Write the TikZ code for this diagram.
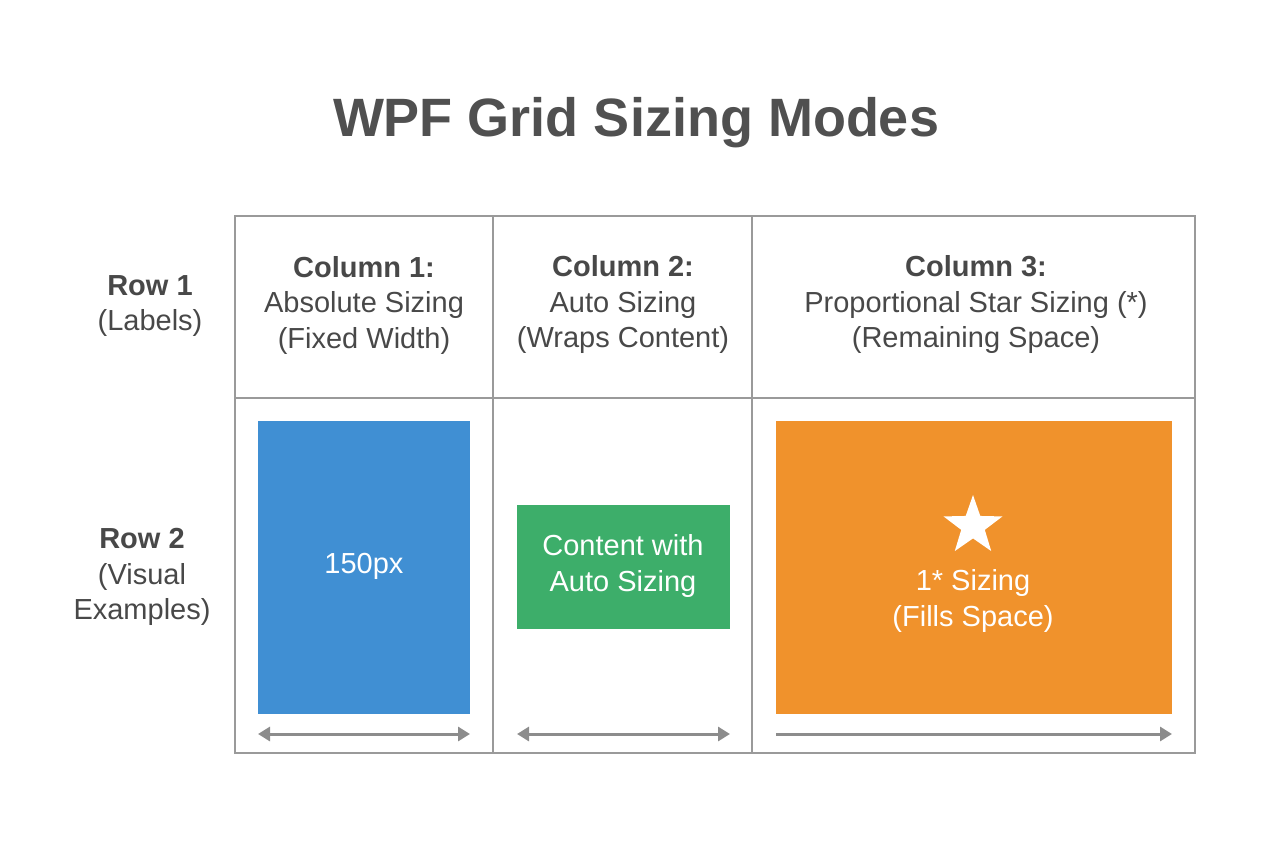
\documentclass[tikz,border=0pt]{standalone}
\usepackage{fontspec}
\setmainfont{Liberation Sans}
\usetikzlibrary{shapes.geometric,arrows.meta}
\definecolor{gridc}{HTML}{9A9A9A}
\definecolor{txt}{HTML}{484848}
\definecolor{titc}{HTML}{505050}
\definecolor{blueb}{HTML}{408FD3}
\definecolor{greenb}{HTML}{3DAE6A}
\definecolor{orangeb}{HTML}{F0922C}
\definecolor{arr}{HTML}{8C8C8C}
\tikzset{
  gridline/.style={draw=gridc,line width=2.5pt},
  hdr/.style={text=txt,font=\fontsize{29}{35.5}\selectfont,align=center},
  rowlab/.style={text=txt,font=\fontsize{29}{35.5}\selectfont,align=center},
  boxtxt/.style={text=white,font=\fontsize{29}{35.5}\selectfont,align=center},
  sizearrow/.style={draw=arr,line width=3pt},
}
\begin{document}
\begin{tikzpicture}[x=1pt,y=-1pt]
\useasboundingbox (0,0) rectangle (1264,848);
\node[text=titc,font=\fontsize{54}{64}\selectfont\bfseries] (title) at (636,123) {WPF Grid Sizing Modes};
\draw[gridline] (235,216) rectangle (1195,753);
\draw[gridline] (493,216) -- (493,753);
\draw[gridline] (752,216) -- (752,753);
\draw[gridline] (235,398) -- (1195,398);
\node[hdr] (h1) at (364,305) {\textbf{Column 1:}\\Absolute Sizing\\(Fixed Width)};
\node[hdr] (h2) at (623,305) {\textbf{Column 2:}\\Auto Sizing\\(Wraps Content)};
\node[hdr] (h3) at (976,305) {\textbf{Column 3:}\\Proportional Star Sizing (*)\\(Remaining Space)};
\node[rowlab] (r1) at (150,306) {\textbf{Row 1}\\(Labels)};
\node[rowlab] (r2) at (142,577) {\textbf{Row 2}\\(Visual\\Examples)};
\fill[blueb] (258,421) rectangle (470,714);
\node[boxtxt] (b1) at (364,566) {150px};
\fill[greenb] (517,505) rectangle (730,629);
\node[boxtxt] (b2) at (623,566) {Content with\\Auto Sizing};
\fill[orangeb] (776,421) rectangle (1172,714);
\node[star,star points=5,star point ratio=2.5,fill=white,minimum size=62pt,inner sep=0pt] (st) at (973,526) {};
\node[boxtxt] (b3) at (973,601) {1* Sizing\\(Fills Space)};
\coordinate (a1l) at (258,734); \coordinate (a1r) at (470,734);
\coordinate (a2l) at (517,734); \coordinate (a2r) at (730,734);
\coordinate (a3l) at (776,734); \coordinate (a3r) at (1172,734);
\draw[sizearrow,{Triangle[length=12pt,width=14pt]}-{Triangle[length=12pt,width=14pt]}] (a1l) -- (a1r);
\draw[sizearrow,{Triangle[length=12pt,width=14pt]}-{Triangle[length=12pt,width=14pt]}] (a2l) -- (a2r);
\draw[sizearrow,-{Triangle[length=12pt,width=14pt]}] (a3l) -- (a3r);
\end{tikzpicture}
\end{document}
